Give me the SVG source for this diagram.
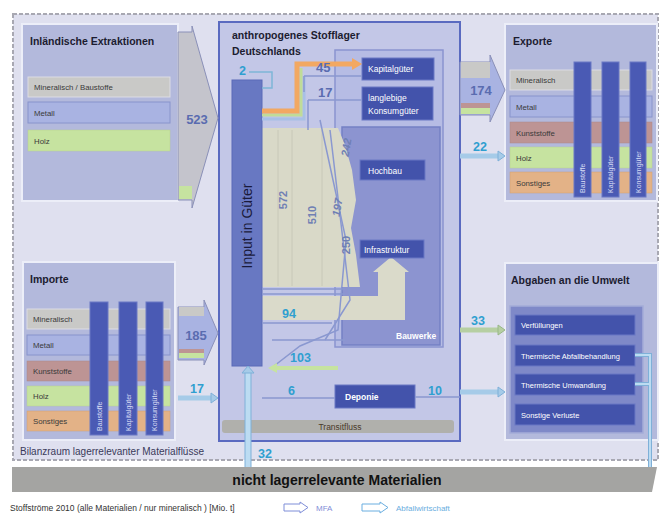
<svg xmlns="http://www.w3.org/2000/svg" width="662" height="517" viewBox="0 0 662 517">
<defs>
<style>
text{font-family:"Liberation Sans",Arial,sans-serif}
.ttl{font-size:10.5px;font-weight:bold;fill:#1c1c30}
.row{font-size:7.8px;fill:#3a3a3a}
.box{fill:#b3b9dc;stroke:#eceef8;stroke-width:2}
.dk{fill:#4353ab;stroke:#6a78c4;stroke-width:1}
.wt{font-size:7.5px;fill:#ffffff}
.wc{font-size:8.5px;fill:#ffffff}
.num{font-size:13px;font-weight:bold;fill:#5a6cb0}
.teal{font-size:12.5px;font-weight:bold;fill:#2f9fd0}
.gnum{font-size:11px;font-weight:bold;fill:#7080b4}
.bar{fill:#4a5ab4;stroke:#6a78c4;stroke-width:1}
.vt{font-size:7px;fill:#d8dcf4}
.ln{fill:none;stroke:#8a98d0;stroke-width:1.5}
.blue{fill:#a6cbe8;stroke:#7fb0d8;stroke-width:1}
.mineral{fill:#c9c9c7;stroke:#dcdce4;stroke-width:1}
.metall{fill:#a9b3e2;stroke:#8894cc;stroke-width:1}
.kunst{fill:#bd9494;stroke:#a88;stroke-width:0.5}
.holz{fill:#c6e3a0;stroke:#b8d090;stroke-width:0.5}
.sonst{fill:#e3b287;stroke:#d0a070;stroke-width:0.5}
</style>
</defs>
<rect width="662" height="517" fill="#ffffff"/>
<rect x="13" y="14" width="645" height="446" fill="#dfe0ef" stroke="#a8a8b2" stroke-width="2" stroke-dasharray="4 2"/>

<g id="extraktionen">
<rect x="22" y="24" width="156" height="177" class="box"/>
<text x="30" y="45" class="ttl">Inländische Extraktionen</text>
<rect x="28" y="77" width="142" height="20" class="mineral"/>
<text x="34" y="90" class="row">Mineralisch / Baustoffe</text>
<rect x="28" y="102" width="142" height="21" class="metall"/>
<text x="34" y="116" class="row">Metall</text>
<rect x="28" y="130" width="142" height="21" class="holz"/>
<text x="34" y="144" class="row">Holz</text>
</g>

<g id="importe">
<rect x="23" y="262" width="152" height="178" class="box"/>
<text x="30" y="283" class="ttl">Importe</text>
<rect x="27" y="309" width="143" height="20" class="mineral"/>
<text x="33" y="322" class="row">Mineralisch</text>
<rect x="27" y="335" width="143" height="20" class="metall"/>
<text x="33" y="348" class="row">Metall</text>
<rect x="27" y="361" width="143" height="20" class="kunst"/>
<text x="33" y="374" class="row">Kunststoffe</text>
<rect x="27" y="386" width="143" height="20" class="holz"/>
<text x="33" y="399" class="row">Holz</text>
<rect x="27" y="411" width="143" height="20" class="sonst"/>
<text x="33" y="424" class="row">Sonstiges</text>
<rect x="90" y="302" width="18" height="133" class="bar"/>
<rect x="119" y="302" width="18" height="133" class="bar"/>
<rect x="146" y="302" width="17" height="133" class="bar"/>
<text transform="translate(101.5,431) rotate(-90)" class="vt">Baustoffe</text>
<text transform="translate(130.5,431) rotate(-90)" class="vt">Kapitalgüter</text>
<text transform="translate(157,431) rotate(-90)" class="vt">Konsumgüter</text>
</g>

<g id="exporte">
<rect x="505" y="24" width="152" height="177" class="box"/>
<text x="513" y="45" class="ttl">Exporte</text>
<rect x="510" y="70" width="142" height="20" class="mineral"/>
<text x="516" y="83" class="row">Mineralisch</text>
<rect x="510" y="96" width="142" height="21" class="metall"/>
<text x="516" y="110" class="row">Metall</text>
<rect x="510" y="122" width="142" height="21" class="kunst"/>
<text x="516" y="136" class="row">Kunststoffe</text>
<rect x="510" y="147" width="142" height="21" class="holz"/>
<text x="516" y="161" class="row">Holz</text>
<rect x="510" y="172" width="142" height="21" class="sonst"/>
<text x="516" y="186" class="row">Sonstiges</text>
<rect x="574" y="62" width="17" height="135" class="bar"/>
<rect x="602" y="62" width="17" height="135" class="bar"/>
<rect x="630" y="62" width="16" height="135" class="bar"/>
<text transform="translate(585,193) rotate(-90)" class="vt">Baustoffe</text>
<text transform="translate(613,193) rotate(-90)" class="vt">Kapitalgüter</text>
<text transform="translate(640.5,193) rotate(-90)" class="vt">Konsumgüter</text>
</g>

<g id="abgaben">
<rect x="505" y="263" width="153" height="177" class="box"/>
<text x="511" y="284" class="ttl">Abgaben an die Umwelt</text>
<rect x="510" y="306" width="133" height="127" fill="#7f89c8" stroke="#a4acd8" stroke-width="1.5"/>
<rect x="515" y="315" width="120" height="20" class="dk"/>
<text x="521" y="328" class="wt">Verfüllungen</text>
<rect x="515" y="345" width="120" height="21" class="dk"/>
<text x="521" y="359" class="wt">Thermische Abfallbehandlung</text>
<rect x="515" y="374" width="120" height="21" class="dk"/>
<text x="521" y="388" class="wt">Thermische Umwandlung</text>
<rect x="515" y="404" width="120" height="21" class="dk"/>
<text x="521" y="418" class="wt">Sonstige Verluste</text>
</g>

<g id="stofflager">
<rect x="219" y="22" width="241" height="419" fill="#c3c7e7" stroke="#5a6ac0" stroke-width="2"/>
<text x="232" y="39" class="ttl">anthropogenes Stofflager</text>
<text x="232" y="55" class="ttl">Deutschlands</text>
<rect x="222" y="420" width="232" height="13" rx="3" fill="#b0b0ac"/>
<text x="340" y="430" font-size="8.5" fill="#4a3a2a" text-anchor="middle">Transitfluss</text>
<rect x="335" y="50" width="108" height="297" fill="#b6bce4" stroke="#8a94d0" stroke-width="1.5"/>
</g>

<g id="kapitalgueter">
<rect x="362" y="58" width="72" height="22" class="dk"/>
<text x="368" y="72" class="wc">Kapitalgüter</text>
</g>
<g id="konsumgueter">
<rect x="362" y="87" width="71" height="33" class="dk"/>
<text x="368" y="101" class="wc">langlebige</text>
<text x="368" y="114" class="wc">Konsumgüter</text>
</g>

<g id="bauwerke">
<rect x="342" y="127" width="98" height="218" fill="#8c94d0" stroke="#7480c4" stroke-width="1.5"/>
<text x="396" y="339" font-size="8.5" font-weight="bold" fill="#ffffff">Bauwerke</text>
</g>

<g id="flows-beige">
<polygon points="262,128 338,128 345,145 352,170 356,200 351,228 356,255 360,287 262,287" fill="#d9d9c8"/>
<polygon points="262,296 378,296 378,272 373,272 391,257 409,272 405,272 405,320 262,320" fill="#dadaca"/>
<path d="M278,130 V286 M292,130 V286 M322,130 V286" stroke="#c8c8b8" stroke-width="1" fill="none"/>
</g>

<g id="hochbau">
<rect x="360" y="160" width="65" height="20" class="dk"/>
<text x="368" y="174" class="wc">Hochbau</text>
</g>
<g id="infrastruktur">
<rect x="360" y="240" width="64" height="18" class="dk"/>
<text x="364" y="252.5" class="wc">Infrastruktur</text>
</g>

<g id="input">
<rect x="232" y="80" width="30" height="286" fill="#6878c2" stroke="#5a6ab8" stroke-width="1"/>
<text transform="translate(252,226) rotate(-90)" font-size="14" fill="#1a1a3a" text-anchor="middle">Input in Güter</text>
</g>

<g id="deponie">
<rect x="335" y="385" width="80" height="23" class="dk"/>
<text x="345" y="400" font-size="8.5" font-weight="bold" fill="#ffffff">Deponie</text>
</g>

<g id="connectors">
<polygon points="178,32 192,32 192,26 218,118 192,208 192,200 178,200" fill="#c4c4cc" stroke="#8a90b8" stroke-width="1"/>
<rect x="179" y="186" width="13" height="13" fill="#c6e3a0"/>
<text x="197" y="124" class="num" text-anchor="middle">523</text>
<polygon points="178,307 204,307 204,300 218,333 204,365 204,360 178,360" fill="#a9b3e2" stroke="#8a90b8" stroke-width="1"/>
<rect x="179" y="307" width="25" height="9" fill="#c9c9c7"/>
<rect x="179" y="349" width="25" height="4" fill="#bd9494"/>
<rect x="179" y="353" width="25" height="5" fill="#c6e3a0"/>
<text x="196" y="340" class="num" text-anchor="middle">185</text>
<path d="M178,398 H212" stroke="#a6cbe8" stroke-width="5"/>
<polygon points="211,393 218,398 211,403" class="blue"/>
<text x="197" y="393" class="teal" text-anchor="middle">17</text>
<polygon points="460,62 490,62 490,55 505,90 490,122 490,115 460,115" fill="#a9b3e2" stroke="#8a90b8" stroke-width="1"/>
<rect x="461" y="62" width="29" height="16" fill="#c9c9c7"/>
<rect x="461" y="103" width="29" height="5" fill="#bd9494"/>
<rect x="461" y="108" width="29" height="6" fill="#c6e3a0"/>
<text x="481" y="95" class="num" text-anchor="middle">174</text>
<path d="M460,156 H499" stroke="#a6cbe8" stroke-width="5"/>
<polygon points="498,151 505,156 498,161" class="blue"/>
<text x="480" y="151" class="teal" text-anchor="middle">22</text>
<path d="M460,330 H499" stroke="#b6cfa2" stroke-width="5"/>
<polygon points="498,325 505,330 498,335" fill="#b6cfa2" stroke="#98b888" stroke-width="1"/>
<text x="478" y="325" class="teal" text-anchor="middle">33</text>
<path d="M460,392 H499" stroke="#a6cbe8" stroke-width="5"/>
<polygon points="498,387 505,392 498,397" class="blue"/>
<path d="M635,355 H650 V470 M635,384 H650" fill="none" stroke="#7fb0d8" stroke-width="4"/>
<path d="M635,355 H650 V470 M635,384 H650" fill="none" stroke="#bcdcf2" stroke-width="2"/>
<polygon points="645,469 655,469 650,477" class="blue"/>
<path d="M248,468 V372" stroke="#7fb0d8" stroke-width="7"/>
<path d="M248,468 V372" stroke="#bcdcf2" stroke-width="5"/>
<polygon points="242,373 254,373 248,366" class="blue"/>
<text x="258" y="458" class="teal">32</text>
<path d="M262,119 H304 V76" fill="none" stroke="#a8c0e6" stroke-width="3"/>
<path d="M262,115 H301 V68" fill="none" stroke="#c0dc98" stroke-width="3"/>
<path d="M262,111 H297 V64 H352" fill="none" stroke="#f2a862" stroke-width="5"/>
<polygon points="352,58 362,64 352,70" fill="#f2a862"/>
<path d="M304,76 H362 M308,100 H362 M308,100 V130 M304,76 V92" class="ln"/>
<text x="316" y="72" class="num" font-size="11">45</text>
<text x="318" y="97" class="num" font-size="11">17</text>
<text x="239" y="75" class="teal">2</text>
<path d="M249,72 H272 V88 H262" fill="none" stroke="#7fb6d8" stroke-width="1.5"/>
<path d="M262,289 H345 M262,294 H345 M262,323 H332 M272,340 H345" class="ln"/>
<path d="M320,120 L346,240 L338,330 L300,346 L274,366" class="ln"/>
<path d="M330,130 L350,300 L325,340" class="ln"/>
<text x="282" y="318" class="teal">94</text>
<path d="M276,368 H338" stroke="#c6e3a0" stroke-width="4"/>
<polygon points="277,363 268,368 277,373" fill="#c6e3a0"/>
<text x="290" y="362" class="teal">103</text>
<path d="M262,398 H335 M415,397 H460" class="ln"/>
<text x="288" y="395" class="teal">6</text>
<text x="428" y="395" class="teal">10</text>
<text transform="translate(287,200) rotate(-90)" class="gnum" text-anchor="middle">572</text>
<text transform="translate(316,215) rotate(-90)" class="gnum" text-anchor="middle">510</text>
<text transform="translate(350,148) rotate(-80)" class="gnum" font-style="italic" text-anchor="middle">242</text>
<text transform="translate(341,208) rotate(-80)" class="gnum" font-style="italic" text-anchor="middle">197</text>
<text transform="translate(350,245) rotate(-90)" class="gnum" text-anchor="middle">250</text>
</g>

<text x="20" y="455" font-size="10" fill="#3a3a5a">Bilanzraum lagerrelevanter Materialflüsse</text>

<g id="nicht-lagerrelevant">
<polygon points="12,467 657,467 652,492 12,492" fill="#a4a4a2"/>
<text x="337" y="485" font-size="14" font-weight="bold" fill="#111111" text-anchor="middle">nicht lagerrelevante Materialien</text>
</g>

<g id="legende">
<text x="10" y="511" font-size="8.5" fill="#333333">Stoffströme 2010 (alle Materialien / nur mineralisch ) [Mio. t]</text>
<path d="M284,504 H300 V502 L308,507.5 L300,513 V511 H284 Z" fill="#ffffff" stroke="#7f8ed8" stroke-width="1"/>
<text x="316" y="511" font-size="8" fill="#7f8ed8">MFA</text>
<path d="M362,504 H380 V502 L388,507.5 L380,513 V511 H362 Z" fill="#ffffff" stroke="#6aaee0" stroke-width="1"/>
<text x="396" y="511" font-size="8" fill="#6aaee0">Abfallwirtschaft</text>
</g>
</svg>
